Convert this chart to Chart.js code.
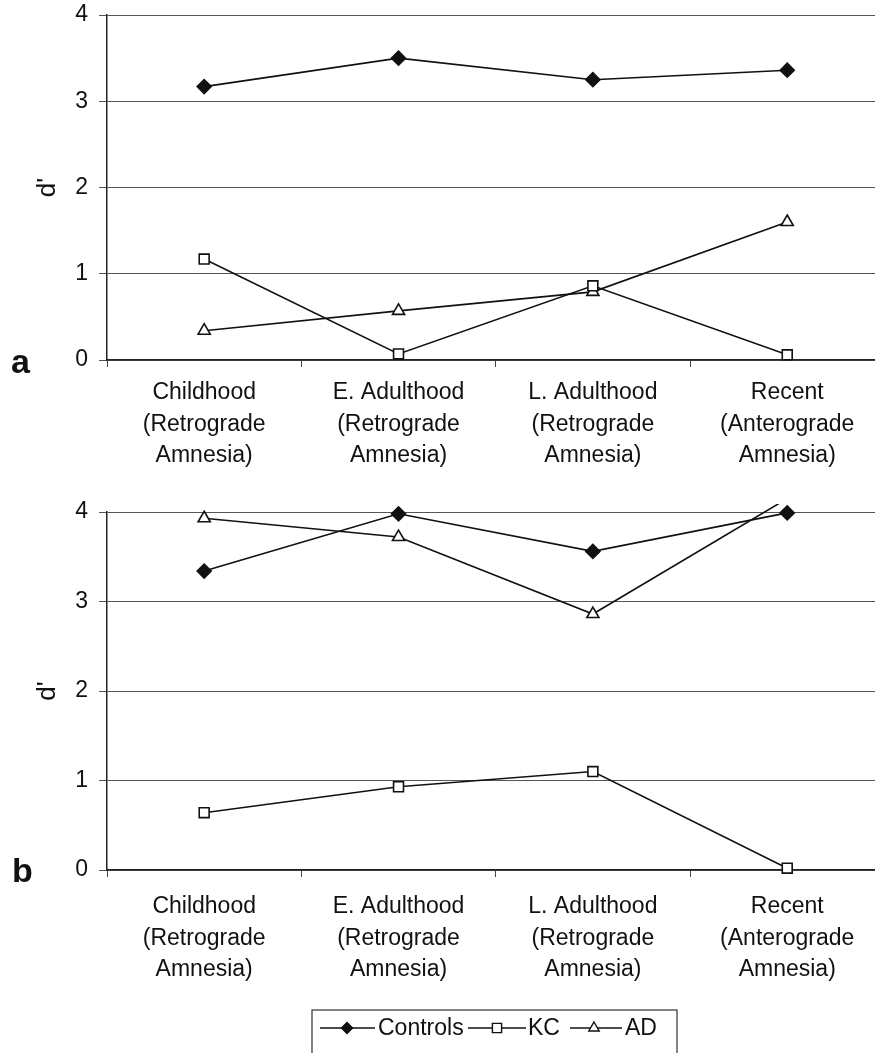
<!DOCTYPE html>
<html>
<head>
<meta charset="utf-8">
<script src="https://cdn.jsdelivr.net/npm/chart.js@4.4.1/dist/chart.umd.min.js"></script>
<style>
  html, body { margin: 0; padding: 0; background: #fff; overflow: hidden; width: 875px; height: 1053px; }
  canvas { position: absolute; left: 0; }
  #chartA { top: 0; }
  #chartB { top: 497px; }
</style>
</head>
<body>
<canvas id="chartA" width="893" height="480"></canvas>
<canvas id="chartB" width="893" height="556"></canvas>
<script>
// categories (memory periods)
const periods = [
    ['Childhood', '(Retrograde', 'Amnesia)'],
    ['E. Adulthood', '(Retrograde', 'Amnesia)'],
    ['L. Adulthood', '(Retrograde', 'Amnesia)'],
    ['Recent', '(Anterograde', 'Amnesia)']
];
const seriesNames = ['Controls', 'KC', 'AD'];

// panel a - d' values
const controlsA = [3.17, 3.50, 3.25, 3.36];
const kcA = [1.17, 0.07, 0.86, 0.06];
const adA = [0.34, 0.57, 0.79, 1.60];

// panel b - d' values (AD "Recent" runs off the top of the axis)
const controlsB = [3.34, 3.98, 3.56, 3.99];
const kcB = [0.64, 0.93, 1.10, 0.02];
const adB = [3.93, 3.72, 2.86, 4.15];

const yTicks = [0, 1, 2, 3, 4];

const FONT = 'Liberation Sans, Arial, sans-serif';
const INK = '#111';

const markerStyles = {
    'Controls': { pointStyle: 'rectRot', radius: 7, bg: INK },
    'KC': { pointStyle: 'rect', radius: 7, bg: '#fff' },
    'AD': { pointStyle: 'triangle', radius: 7, bg: '#fff' }
};

function makeDataset(name, values) {
    const m = markerStyles[name];
    return {
        label: name,
        data: values,
        borderColor: INK,
        borderWidth: 1.6,
        pointStyle: m.pointStyle,
        pointRadius: m.radius,
        pointHoverRadius: m.radius,
        pointBackgroundColor: m.bg,
        pointBorderColor: INK,
        pointBorderWidth: 1.6,
        tension: 0,
        clip: { left: 10, right: 10, top: 8, bottom: 10 }
    };
}

// panel letter + (optionally) legend box
function panelDecor(letter, letterX, letterBase, withLegend) {
    return {
        id: 'panelDecor' + letter,
        afterDraw(chart) {
            const ctx = chart.ctx;
            ctx.save();
            ctx.fillStyle = INK;
            ctx.font = 'bold 34px ' + FONT;
            ctx.textBaseline = 'alphabetic';
            ctx.textAlign = 'left';
            ctx.fillText(letter, letterX, letterBase);

            if (withLegend) {
                const top = 513;
                const cy = 531;
                ctx.textBaseline = 'middle';
                ctx.strokeStyle = '#333';
                ctx.lineWidth = 1.2;
                ctx.strokeRect(312, top, 365, 80);

                const items = [
                    { name: 'Controls', x1: 320, x2: 375, mx: 347, tx: 378, r: 5.5 },
                    { name: 'KC', x1: 468, x2: 526, mx: 497, tx: 528, r: 6.5 },
                    { name: 'AD', x1: 570, x2: 622, mx: 594, tx: 625, r: 6 }
                ];
                ctx.font = '23px ' + FONT;
                items.forEach(it => {
                    const m = markerStyles[it.name];
                    ctx.strokeStyle = INK;
                    ctx.lineWidth = 1.4;
                    ctx.beginPath();
                    ctx.moveTo(it.x1, cy);
                    ctx.lineTo(it.x2, cy);
                    ctx.stroke();
                    ctx.fillStyle = m.bg;
                    ctx.strokeStyle = INK;
                    ctx.lineWidth = 1.4;
                    Chart.helpers.drawPoint(ctx, { pointStyle: m.pointStyle, radius: it.r, rotation: 0, borderWidth: 1.4 }, it.mx, cy);
                    ctx.fillStyle = INK;
                    ctx.fillText(it.name, it.tx, cy + 1);
                });
            }
            ctx.restore();
        }
    };
}

function buildChart(canvasId, sets, xAxisHeight, labelPad, letter, letterX, letterBase, withLegend) {
    return new Chart(document.getElementById(canvasId), {
        type: 'line',
        data: {
            labels: periods,
            datasets: [
                makeDataset(seriesNames[0], sets[0]),
                makeDataset(seriesNames[1], sets[1]),
                makeDataset(seriesNames[2], sets[2])
            ]
        },
        options: {
            responsive: false,
            animation: false,
            layout: { padding: { top: 15, left: 0, right: 0, bottom: 0 } },
            plugins: {
                legend: { display: false },
                tooltip: { enabled: false }
            },
            scales: {
                x: {
                    offset: true,
                    grid: { offset: true, drawOnChartArea: false, drawTicks: true, tickLength: 7, color: '#444', lineWidth: 1 },
                    border: { display: true, color: '#222', width: 1.5 },
                    ticks: {
                        color: INK,
                        padding: labelPad,
                        maxRotation: 0,
                        autoSkip: false,
                        font: { family: FONT, size: 23, lineHeight: 1.37 }
                    },
                    afterFit: scale => {
                        scale.height = xAxisHeight;
                        scale.paddingLeft = 0;
                        scale.paddingRight = 0;
                    }
                },
                y: {
                    min: 0,
                    max: 4,
                    afterBuildTicks: scale => { scale.ticks = yTicks.map(v => ({ value: v })); },
                    grid: { color: '#555', lineWidth: 1, tickLength: 8 },
                    border: { display: true, color: '#222', width: 1.5 },
                    ticks: {
                        color: INK,
                        padding: 11,
                        font: { family: FONT, size: 23 }
                    },
                    title: {
                        display: true,
                        text: "d'",
                        color: INK,
                        padding: { top: 32, bottom: 0 },
                        font: { family: FONT, size: 26 }
                    },
                    afterFit: scale => {
                        scale.width = 107;
                        scale.paddingTop = 0;
                        scale.paddingBottom = 0;
                    }
                }
            }
        },
        plugins: [panelDecor(letter, letterX, letterBase, withLegend)]
    });
}

buildChart('chartA', [controlsA, kcA, adA], 120, 10, 'a', 11, 373, false);
buildChart('chartB', [controlsB, kcB, adB], 183, 14, 'b', 12, 385, true);
</script>
</body>
</html>
